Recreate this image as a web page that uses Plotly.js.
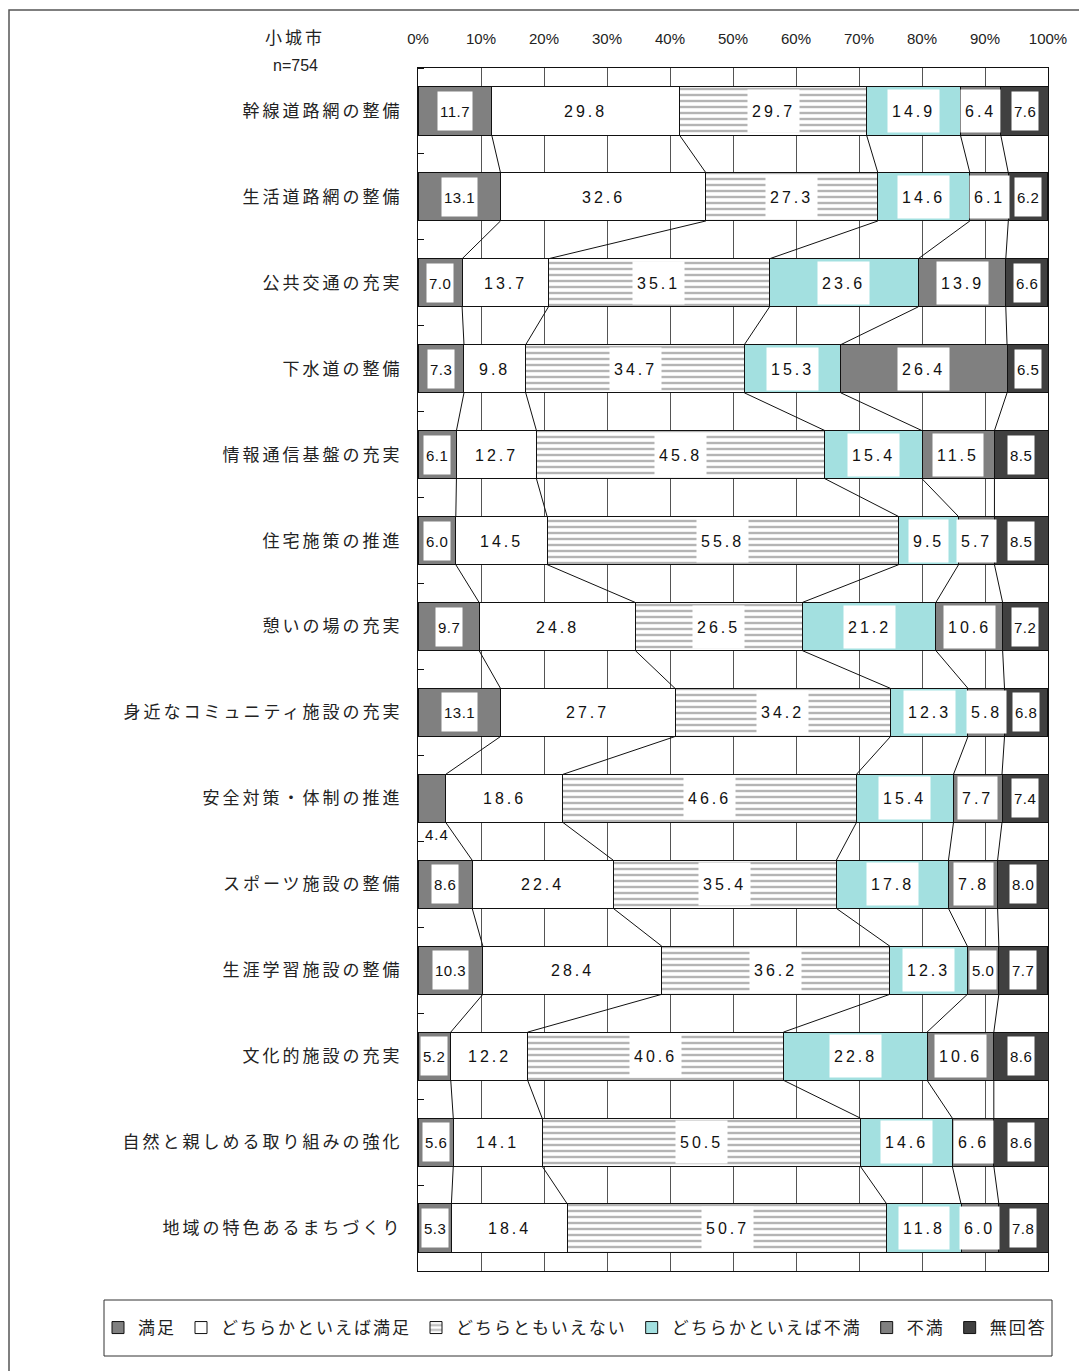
<!DOCTYPE html>
<html>
<head>
<meta charset="utf-8">
<script src="https://cdn.plot.ly/plotly-3.0.1.min.js"></script>
<style>
  body { margin: 0; background: #fff; }
  #chart { width: 1079px; height: 1371px; }
</style>
</head>
<body>
<div id="chart"></div>
<script>
// 項目（上から順）
const categories = [
  "幹線道路網の整備",
  "生活道路網の整備",
  "公共交通の充実",
  "下水道の整備",
  "情報通信基盤の充実",
  "住宅施策の推進",
  "憩いの場の充実",
  "身近なコミュニティ施設の充実",
  "安全対策・体制の推進",
  "スポーツ施設の整備",
  "生涯学習施設の整備",
  "文化的施設の充実",
  "自然と親しめる取り組みの強化",
  "地域の特色あるまちづくり"
];

const seriesNames = ["満足", "どちらかといえば満足", "どちらともいえない", "どちらかといえば不満", "不満", "無回答"];

// 各回答の割合（%）
const manzoku     = [11.7, 13.1, 7.0, 7.3, 6.1, 6.0, 9.7, 13.1, 4.4, 8.6, 10.3, 5.2, 5.6, 5.3];
const yaManzoku   = [29.8, 32.6, 13.7, 9.8, 12.7, 14.5, 24.8, 27.7, 18.6, 22.4, 28.4, 12.2, 14.1, 18.4];
const dochiramo   = [29.7, 27.3, 35.1, 34.7, 45.8, 55.8, 26.5, 34.2, 46.6, 35.4, 36.2, 40.6, 50.5, 50.7];
const yaFuman     = [14.9, 14.6, 23.6, 15.3, 15.4, 9.5, 21.2, 12.3, 15.4, 17.8, 12.3, 22.8, 14.6, 11.8];
const fuman       = [6.4, 6.1, 13.9, 26.4, 11.5, 5.7, 10.6, 5.8, 7.7, 7.8, 5.0, 10.6, 6.6, 6.0];
const mukaitou    = [7.6, 6.2, 6.6, 6.5, 8.5, 8.5, 7.2, 6.8, 7.4, 8.0, 7.7, 8.6, 8.6, 7.8];

const xTicks = [0, 10, 20, 30, 40, 50, 60, 70, 80, 90, 100];

const allSeries = [manzoku, yaManzoku, dochiramo, yaFuman, fuman, mukaitou];
const colors = ["#808080", "#ffffff", "#ffffff", "#a3e0e0", "#808080", "#404040"];

const JP = "Liberation Sans, Noto Sans CJK JP, sans-serif";
const BAR_W = 0.56;

// 文字間隔を空ける
function sp(txt, ls) {
  return '<span style="letter-spacing:' + ls + 'px">' + txt + '</span>';
}

// ピクセル位置 -> paper座標
const W = 1079, H = 1371;
const ML = 418, MT = 68, PW = 630, PH = 1203;
function px(x) { return (x - ML) / PW; }
function py(y) { return (MT + PH - y) / PH; }

const yIdx = categories.map((c, i) => i);

const data = allSeries.map((vals, s) => {
  const tr = {
    type: "bar",
    orientation: "h",
    name: sp(seriesNames[s], 2),
    x: vals,
    y: yIdx,
    width: BAR_W,
    marker: {
      color: colors[s],
      line: { color: "#111", width: 1 }
    },
    hoverinfo: "x+name"
  };
  if (s === 2) {
    tr.marker.pattern = { shape: "-", fgcolor: "#b4b4b4", bgcolor: "#ffffff", size: 6, solidity: 0.4 };
  }
  return tr;
});

// 累積値
const cum = categories.map((c, i) => {
  let acc = 0;
  return allSeries.map(vals => (acc += vals[i]));
});

// ラベル
const annotations = [];
categories.forEach((c, i) => {
  let start = 0;
  allSeries.forEach((vals, s) => {
    const v = vals[i];
    const mid = start + v / 2;
    const small = (s === 0 || s === 5 || v <= 5.0);
    const label = v.toFixed(1);
    if (s === 0 && v < 5) {
      // 幅が狭いので棒の下に表示
      annotations.push({
        x: 0, y: i + BAR_W / 2 + 0.14, xref: "x", yref: "y",
        xanchor: "left", xshift: 5, showarrow: false,
        text: sp(label, 1),
        font: { family: JP, size: 15, color: "#111" }
      });
    } else {
      annotations.push({
        x: mid, y: i, xref: "x", yref: "y",
        showarrow: false,
        text: small ? sp(label, 0.5) : sp(label, 3),
        font: { family: JP, size: small ? 15 : 16, color: "#111" },
        bgcolor: "#ffffff",
        height: 34,
        borderpad: small ? 2 : 4
      });
    }
    start += v;
  });
});

// 見出し
annotations.push({
  x: px(295), y: py(38), xref: "paper", yref: "paper",
  xanchor: "center", yanchor: "middle",
  showarrow: false, text: sp("小城市", 3),
  font: { family: JP, size: 17, color: "#222" }
});
annotations.push({
  x: px(295), y: py(65), xref: "paper", yref: "paper",
  xanchor: "center", yanchor: "middle",
  showarrow: false, text: "n=754",
  font: { family: JP, size: 16, color: "#222" }
});

// 連結線
const shapes = [];
for (let i = 0; i < categories.length - 1; i++) {
  for (let k = 0; k < 5; k++) {
    shapes.push({
      type: "line", xref: "x", yref: "y",
      x0: cum[i][k], y0: i + BAR_W / 2,
      x1: cum[i + 1][k], y1: i + 1 - BAR_W / 2,
      line: { color: "#111", width: 1 },
      layer: "above"
    });
  }
}

// 外枠
shapes.push({
  type: "rect", xref: "paper", yref: "paper",
  x0: px(9), x1: px(1090), y0: py(1390), y1: py(10),
  line: { color: "#555", width: 1.5 },
  fillcolor: "rgba(0,0,0,0)",
  layer: "below"
});

// 凡例の枠
shapes.push({
  type: "rect", xref: "paper", yref: "paper",
  x0: px(104), x1: px(1052), y0: py(1356), y1: py(1300),
  line: { color: "#333", width: 1 },
  fillcolor: "rgba(0,0,0,0)",
  layer: "below"
});

const layout = {
  width: W,
  height: H,
  margin: { l: ML, r: W - ML - PW, t: MT, b: H - MT - PH, autoexpand: false },
  paper_bgcolor: "#ffffff",
  plot_bgcolor: "#ffffff",
  barmode: "stack",
  showlegend: true,
  font: { family: JP, color: "#222" },
  xaxis: {
    side: "top",
    range: [0, 100],
    tickvals: xTicks,
    ticktext: xTicks.map(t => t + "%"),
    showgrid: true,
    gridcolor: "#555",
    gridwidth: 1,
    zeroline: false,
    showline: true,
    mirror: true,
    linecolor: "#111",
    linewidth: 1,
    ticks: "",
    ticklabelstandoff: 17,
    tickfont: { family: "Liberation Sans Narrow, Liberation Sans, sans-serif", size: 15, color: "#222" },
    fixedrange: true
  },
  yaxis: {
    range: [categories.length - 0.5, -0.5],
    tickvals: yIdx,
    ticktext: categories.map(c => sp(c, 3)),
    tickfont: { family: JP, size: 17, color: "#222" },
    showgrid: false,
    zeroline: false,
    showline: true,
    mirror: true,
    linecolor: "#111",
    linewidth: 1,
    ticks: "",
    ticklabelstandoff: 11,
    minor: { ticks: "inside", ticklen: 6, tickcolor: "#111", tickwidth: 1, tick0: 0.5, dtick: 1, showgrid: false },
    fixedrange: true
  },
  legend: {
    orientation: "h",
    x: px(98),
    xanchor: "left",
    y: py(1328),
    yanchor: "middle",
    borderwidth: 0,
    bgcolor: "rgba(0,0,0,0)",
    font: { family: JP, size: 17, color: "#222" },
    traceorder: "normal",
    itemwidth: 30
  },
  annotations: annotations,
  shapes: shapes
};

Plotly.newPlot("chart", data, layout, { displayModeBar: false, staticPlot: true });
</script>
</body>
</html>
